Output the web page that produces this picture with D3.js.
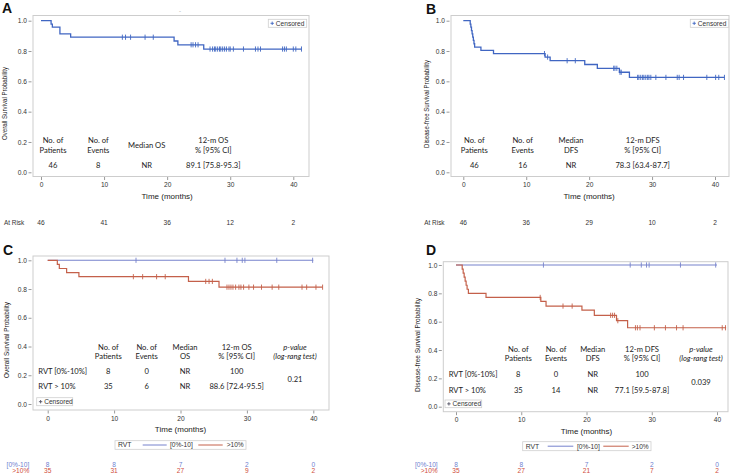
<!DOCTYPE html>
<html><head><meta charset="utf-8">
<script src="https://cdn.jsdelivr.net/npm/d3@7"></script>
<style>body{margin:0;background:#fff} svg{display:block}</style>
</head><body>
<script>
// ---------- shared ticks ----------
const timeTicks = [0, 10, 20, 30, 40];
const probTicks = [0, 0.2, 0.4, 0.6, 0.8, 1.0];

// ---------- Panel A : overall survival, all patients ----------
const osAllTimes = [0, 1.6, 1.8, 3.0, 4.7, 21.1, 21.7, 25.8];
const osAllSurv  = [1, 0.978, 0.957, 0.913, 0.891, 0.866, 0.841, 0.813];
const osAllEnd = 41.3;
const osAllCensor = [12.9, 13.4, 14.2, 16.5, 17.8, 23.8, 24.1, 24.5, 24.9, 26.8, 27.2, 27.5, 27.7, 28.0, 28.3, 28.5, 28.8, 29.1, 29.4, 29.8, 30.0, 30.5, 32.1, 34.0, 34.4, 34.8, 38.3, 38.6, 38.9, 40.0, 40.4, 41.3];
const osAllAtRisk = [46, 41, 36, 12, 2];
const tableAHead = [["No. of", "Patients"], ["No. of", "Events"], ["Median OS"], ["12-m OS", "% [95% CI]"]];
const tableAVals = ["46", "8", "NR", "89.1 [75.8-95.3]"];

// ---------- Panel B : disease-free survival, all patients ----------
const dfsAllTimes = [0, 1.1, 1.2, 1.3, 1.4, 1.5, 1.6, 1.7, 1.8, 2.8, 4.8, 13.0, 13.8, 19.3, 21.3, 24.8, 26.4];
const dfsAllSurv  = [1, 0.978, 0.957, 0.935, 0.913, 0.891, 0.870, 0.848, 0.826, 0.804, 0.783, 0.760, 0.736, 0.711, 0.686, 0.660, 0.626];
const dfsAllEnd = 41.5;
const dfsAllCensor = [12.9, 13.4, 16.5, 17.8, 23.9, 24.1, 24.4, 24.9, 25.1, 27.7, 27.9, 28.2, 28.5, 28.7, 29.0, 29.3, 29.5, 29.8, 30.6, 32.2, 34.0, 34.3, 35.0, 38.7, 40.1, 40.6, 41.5];
const dfsAllAtRisk = [46, 36, 29, 10, 2];
const tableBHead = [["No. of", "Patients"], ["No. of", "Events"], ["Median", "DFS"], ["12-m DFS", "% [95% CI]"]];
const tableBVals = ["46", "16", "NR", "78.3 [63.4-87.7]"];

// ---------- Panel C : OS by RVT ----------
const groupNames = ["[0%-10]", ">10%"];
const osLowTimes = [0];
const osLowSurv  = [1];
const osLowEnd = 40.0;
const osLowCensor = [13.3, 26.7, 28.5, 29.3, 29.7, 34.5, 39.9];
const osHighTimes = [0, 1.45, 1.75, 2.85, 4.7, 21.2, 25.8];
const osHighSurv  = [1, 0.971, 0.943, 0.914, 0.886, 0.853, 0.813];
const osHighEnd = 41.4;
const osHighCensor = [12.9, 14.3, 16.4, 17.7, 23.8, 24.3, 24.8, 27.0, 27.3, 27.6, 27.9, 28.3, 28.8, 29.1, 29.5, 30.3, 31.0, 32.2, 33.8, 34.8, 38.3, 39.0, 40.4, 41.4];
const osLowAtRisk  = [8, 8, 7, 2, 0];
const osHighAtRisk = [35, 31, 27, 9, 2];
const tableCHead = [["No. of", "Patients"], ["No. of", "Events"], ["Median", "OS"], ["12-m OS", "% [95% CI]"], ["p-value", "(log-rang test)"]];
const tableCRows = [["RVT [0%-10%]", "8", "0", "NR", "100"], ["RVT > 10%", "35", "6", "NR", "88.6 [72.4-95.5]"]];
const tableCP = "0.21";

// ---------- Panel D : DFS by RVT ----------
const dfsLowTimes = [0];
const dfsLowSurv  = [1];
const dfsLowEnd = 40.0;
const dfsLowCensor = [13.4, 26.7, 28.4, 29.2, 29.6, 34.4, 39.8];
const dfsHighTimes = [0, 0.95, 1.1, 1.25, 1.4, 1.55, 1.7, 1.9, 4.6, 13.0, 13.8, 19.3, 21.2, 24.6, 26.3];
const dfsHighSurv  = [1, 0.971, 0.943, 0.914, 0.886, 0.857, 0.829, 0.800, 0.771, 0.743, 0.710, 0.682, 0.645, 0.607, 0.557];
const dfsHighEnd = 41.4;
const dfsHighCensor = [12.9, 16.4, 17.8, 23.7, 24.0, 24.3, 24.8, 27.5, 27.8, 28.2, 30.4, 32.1, 33.8, 34.8, 40.8, 41.3];
const dfsLowAtRisk  = [8, 8, 7, 2, 0];
const dfsHighAtRisk = [35, 27, 21, 7, 2];
const tableDHead = [["No. of", "Patients"], ["No. of", "Events"], ["Median", "DFS"], ["12-m DFS", "% [95% CI]"], ["p-value", "(log-rang test)"]];
const tableDRows = [["RVT [0%-10%]", "8", "0", "NR", "100"], ["RVT > 10%", "35", "14", "NR", "77.1 [59.5-87.8]"]];
const tableDP = "0.039";

// ---------- drawing ----------
const W = 732, H = 475;
const svg = d3.select("body").append("svg").attr("width", W).attr("height", H);
const AX = "'Liberation Sans', Arial, sans-serif";
const TB = "Lato, 'Noto Sans', sans-serif";
const BLUE_AB = "#4066c2", BLUE = "#7682cc", RED = "#c4604a";
const BLUE_TXT = "#6f7fd0", RED_TXT = "#cf4d3c";

function survAt(times, surv, t) {
  let s = surv[0];
  for (let i = 0; i < times.length; i++) if (times[i] <= t) s = surv[i];
  return s;
}

function frameAndAxes(c) {
  const x = d3.scaleLinear().domain([0, 40]).range([c.x0, c.x40]);
  const y = d3.scaleLinear().domain([0, 1]).range([c.y0, c.y1]);
  const g = svg.append("g");
  g.append("rect").attr("x", c.fl).attr("y", c.ft).attr("width", c.fr - c.fl).attr("height", c.fb - c.ft)
    .attr("fill", "none").attr("stroke", "#cdcdcd").attr("stroke-width", 1);
  const ya = g.append("g").attr("transform", `translate(${c.fl - 1.5},0)`)
    .call(d3.axisLeft(y).tickValues(probTicks).tickFormat(d3.format(".1f")).tickSize(3).tickPadding(1.5));
  const xa = g.append("g").attr("transform", `translate(0,${c.fb + 0.5})`)
    .call(d3.axisBottom(x).tickValues(timeTicks).tickFormat(d3.format("d")).tickSize(3).tickPadding(2.5));
  [ya, xa].forEach(a => {
    a.select(".domain").remove();
    a.selectAll(".tick line").attr("stroke", "#9a9a9a");
    a.selectAll("text").attr("font-family", AX).attr("font-size", 6.6).attr("fill", "#333");
  });
  g.append("text").attr("x", (c.x0 + c.x40) / 2).attr("y", c.timeY).attr("dy", "0.35em")
    .attr("text-anchor", "middle").attr("font-family", AX).attr("font-size", 8).attr("fill", "#222")
    .text("Time (months)");
  g.append("text").attr("transform", `translate(${c.ylX},${c.ylY}) rotate(-90)`).attr("dy", "0.35em")
    .attr("text-anchor", "middle").attr("font-family", AX).attr("font-size", 7.2).attr("fill", "#222")
    .attr("textLength", c.ylLen).attr("lengthAdjust", "spacingAndGlyphs").text(c.ylabel);
  svg.append("text").attr("x", c.letX).attr("y", c.letY).attr("font-family", AX).attr("font-weight", "bold")
    .attr("font-size", 14).attr("fill", "#111").text(c.letter);
  return {x, y, g};
}

function curve(ctx, times, surv, end, censor, color, width) {
  const pts = times.map((t, i) => [t, surv[i]]);
  pts.push([end, surv[surv.length - 1]]);
  const line = d3.line().x(d => ctx.x(d[0])).y(d => ctx.y(d[1])).curve(d3.curveStepAfter);
  ctx.g.append("path").attr("d", line(pts)).attr("fill", "none").attr("stroke", color).attr("stroke-width", width);
  ctx.g.selectAll(null).data(censor).enter().append("line")
    .attr("x1", d => ctx.x(d)).attr("x2", d => ctx.x(d))
    .attr("y1", d => ctx.y(survAt(times, surv, d)) - 2.6).attr("y2", d => ctx.y(survAt(times, surv, d)) + 2.6)
    .attr("stroke", color).attr("stroke-width", 0.9);
}

function txt(x, y, s, opt = {}) {
  return svg.append("text").attr("x", x).attr("y", y).attr("dy", "0.35em")
    .attr("text-anchor", opt.anchor || "middle").attr("font-family", opt.font || TB)
    .attr("font-size", opt.size || 7.6).attr("fill", opt.fill || "#222")
    .attr("font-style", opt.italic ? "italic" : null).text(s);
}

function censLegend(x, y, w, h, color) {
  svg.append("rect").attr("x", x).attr("y", y).attr("width", w).attr("height", h)
    .attr("fill", "#fff").attr("stroke", "#cfcfcf").attr("stroke-width", 0.8);
  const cy = y + h / 2;
  svg.append("line").attr("x1", x + 2.2).attr("x2", x + 5.6).attr("y1", cy).attr("y2", cy).attr("stroke", color).attr("stroke-width", 0.9);
  svg.append("line").attr("x1", x + 3.9).attr("x2", x + 3.9).attr("y1", cy - 1.7).attr("y2", cy + 1.7).attr("stroke", color).attr("stroke-width", 0.9);
  txt(x + 7.5, cy, "Censored", {anchor: "start", font: AX, size: 6.6, fill: "#333"});
}

function groupLegend(x, y, w, h, lines) {
  svg.append("rect").attr("x", x).attr("y", y).attr("width", w).attr("height", h)
    .attr("fill", "#fff").attr("stroke", "#cfcfcf").attr("stroke-width", 0.8);
  const cy = y + h / 2;
  txt(x + 3, cy, "RVT", {anchor: "start", font: AX, size: 6.8, fill: "#333"});
  lines.forEach(l => {
    svg.append("line").attr("x1", l.l1).attr("x2", l.l2).attr("y1", cy).attr("y2", cy).attr("stroke", l.color).attr("stroke-width", 1);
    txt(l.tx, cy, l.label, {anchor: "start", font: AX, size: 6.6, fill: "#333"});
  });
}

// ----- Panel A -----
const cA = {fl: 33, ft: 15.5, fr: 309, fb: 176.5, x0: 41, x40: 293.3, y0: 172.3, y1: 20.7,
  timeY: 196, ylX: 4, ylY: 103.5, ylLen: 73, ylabel: "Overall Survival Probability", letter: "A", letX: 2, letY: 13};
const A = frameAndAxes(cA);
curve(A, osAllTimes, osAllSurv, osAllEnd, osAllCensor, BLUE_AB, 1.3);
censLegend(268.3, 19.3, 38.4, 8, BLUE_AB);
svg.append("text").attr("x", 180).attr("y", 13).attr("text-anchor", "middle").attr("font-size", 6).attr("fill", "#aaa").text("-");
[53, 98.3, 146.7, 213.3].forEach((cx, i) => {
  const h = tableAHead[i];
  if (h.length === 2) { txt(cx, 140, h[0]); txt(cx, 150, h[1]); } else txt(cx, 145, h[0]);
  txt(cx, 165.7, tableAVals[i]);
});
txt(4, 222.7, "At Risk", {anchor: "start", font: AX, size: 6.4, fill: "#333"});
timeTicks.forEach((t, i) => txt(A.x(t), 222.7, osAllAtRisk[i], {font: AX, size: 6.6, fill: "#333"}));

// ----- Panel B -----
const cB = {fl: 451, ft: 15.5, fr: 729, fb: 176.5, x0: 463.3, x40: 715, y0: 172.3, y1: 20.7,
  timeY: 196, ylX: 426, ylY: 104, ylLen: 88, ylabel: "Disease-free Survival Probability", letter: "B", letX: 426, letY: 14};
const B = frameAndAxes(cB);
curve(B, dfsAllTimes, dfsAllSurv, dfsAllEnd, dfsAllCensor, BLUE_AB, 1.3);
censLegend(690.3, 19.3, 38.4, 8, BLUE_AB);
[474.3, 522.7, 571, 642.7].forEach((cx, i) => {
  const h = tableBHead[i];
  txt(cx, 140, h[0]); txt(cx, 150, h[1]);
  txt(cx, 165.7, tableBVals[i]);
});
txt(424.3, 222.7, "At Risk", {anchor: "start", font: AX, size: 6.4, fill: "#333"});
timeTicks.forEach((t, i) => txt(B.x(t), 222.7, dfsAllAtRisk[i], {font: AX, size: 6.6, fill: "#333"}));

// ----- Panel C -----
const cC = {fl: 33, ft: 256, fr: 329, fb: 410, x0: 47.7, x40: 313.3, y0: 404, y1: 260.3,
  timeY: 429, ylX: 6.5, ylY: 340, ylLen: 76, ylabel: "Overall Survival Probability", letter: "C", letX: 3, letY: 255};
const C = frameAndAxes(cC);
curve(C, osLowTimes, osLowSurv, osLowEnd, osLowCensor, BLUE, 1.1);
curve(C, osHighTimes, osHighSurv, osHighEnd, osHighCensor, RED, 1.2);
censLegend(36.7, 397.7, 36, 8, "#556");
[108.3, 146.7, 185, 236.7, 295].forEach((cx, i) => {
  const it = i === 4;
  txt(cx, 347.3, tableCHead[i][0], {italic: it}); txt(cx, 356, tableCHead[i][1], {italic: it});
  if (i < 4) {
    txt(cx, 371.7, tableCRows[0][i + 1]); txt(cx, 386.7, tableCRows[1][i + 1]);
  }
});
txt(38.3, 371.7, tableCRows[0][0], {anchor: "start"});
txt(38.3, 386.7, tableCRows[1][0], {anchor: "start"});
txt(295, 379.3, tableCP);
groupLegend(115, 440.7, 131, 8.6, [
  {l1: 142.7, l2: 166.7, color: BLUE, tx: 170, label: groupNames[0]},
  {l1: 198.3, l2: 222.7, color: RED, tx: 226.7, label: groupNames[1]}]);
txt(29.3, 464.3, groupNames[0], {anchor: "end", font: AX, size: 6.6, fill: BLUE_TXT});
txt(29.3, 470.9, groupNames[1], {anchor: "end", font: AX, size: 6.6, fill: RED_TXT});
timeTicks.forEach((t, i) => {
  txt(C.x(t), 464.3, osLowAtRisk[i], {font: AX, size: 6.6, fill: BLUE_TXT});
  txt(C.x(t), 470.9, osHighAtRisk[i], {font: AX, size: 6.6, fill: RED_TXT});
});

// ----- Panel D -----
const cD = {fl: 443.3, ft: 261.7, fr: 728, fb: 411.7, x0: 456, x40: 717, y0: 406.7, y1: 265,
  timeY: 431, ylX: 417, ylY: 345, ylLen: 94, ylabel: "Disease-free Survival Probability", letter: "D", letX: 426, letY: 255};
const D = frameAndAxes(cD);
curve(D, dfsLowTimes, dfsLowSurv, dfsLowEnd, dfsLowCensor, BLUE, 1.1);
curve(D, dfsHighTimes, dfsHighSurv, dfsHighEnd, dfsHighCensor, RED, 1.2);
censLegend(445, 400, 36.7, 7.7, "#556");
[518.3, 556, 592.7, 642, 701].forEach((cx, i) => {
  const it = i === 4;
  txt(cx, 349.3, tableDHead[i][0], {italic: it}); txt(cx, 358.3, tableDHead[i][1], {italic: it});
  if (i < 4) {
    txt(cx, 374, tableDRows[0][i + 1]); txt(cx, 390, tableDRows[1][i + 1]);
  }
});
txt(448.7, 374, tableDRows[0][0], {anchor: "start"});
txt(448.7, 390, tableDRows[1][0], {anchor: "start"});
txt(701, 382.3, tableDP);
groupLegend(522.7, 441.7, 128.3, 9, [
  {l1: 547.7, l2: 573.3, color: BLUE, tx: 577, label: groupNames[0]},
  {l1: 603.3, l2: 628.7, color: RED, tx: 631.7, label: groupNames[1]}]);
txt(437.7, 465, groupNames[0], {anchor: "end", font: AX, size: 6.6, fill: BLUE_TXT});
txt(437.7, 471, groupNames[1], {anchor: "end", font: AX, size: 6.6, fill: RED_TXT});
timeTicks.forEach((t, i) => {
  txt(D.x(t), 465, dfsLowAtRisk[i], {font: AX, size: 6.6, fill: BLUE_TXT});
  txt(D.x(t), 471, dfsHighAtRisk[i], {font: AX, size: 6.6, fill: RED_TXT});
});
</script>
</body></html>
